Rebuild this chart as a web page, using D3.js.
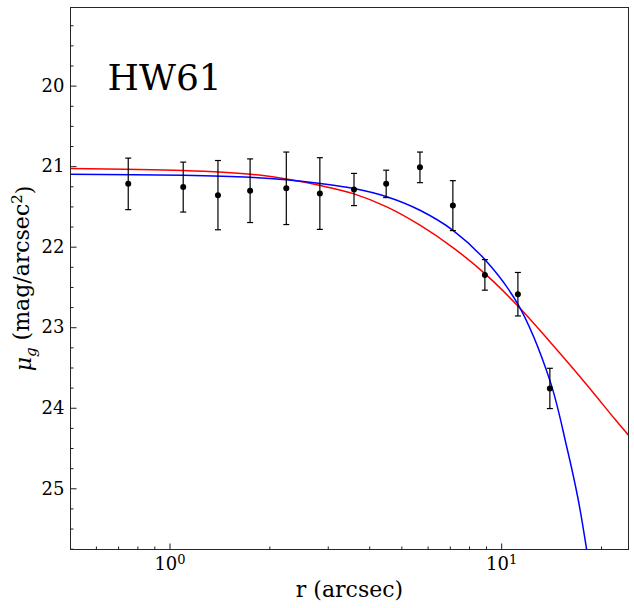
<!DOCTYPE html>
<html>
<head>
<meta charset="utf-8">
<script src="https://cdn.jsdelivr.net/npm/d3@7"></script>
<style>
  body { margin: 0; background: #fff; }
  svg { display: block; }
  text { font-family: "DejaVu Serif", serif; fill: #000; }
</style>
</head>
<body>
<svg id="chart" width="634" height="608"></svg>
<script>
// measured profile (r in arcsec, mu_g in mag/arcsec^2)
const radii = [0.751, 1.10, 1.40, 1.75, 2.25, 2.84, 3.60, 4.50, 5.69, 7.15, 8.93, 11.23, 14.02];
const mu = [21.22, 21.26, 21.36, 21.305, 21.275, 21.34, 21.29, 21.22, 21.015, 21.49, 22.35, 22.59, 23.76];
const muErr = [0.32, 0.31, 0.43, 0.395, 0.45, 0.445, 0.20, 0.17, 0.19, 0.31, 0.19, 0.27, 0.25];

// red model curve
const redR = [0.50, 1.10, 1.75, 2.25, 2.85, 3.60, 4.52, 5.69, 7.17, 8.93, 11.25, 14.02, 18.08, 22.0, 24.2];
const redMu = [21.03, 21.055, 21.10, 21.16, 21.24, 21.344, 21.506, 21.733, 22.014, 22.335, 22.74, 23.18, 23.71, 24.14, 24.34];

// blue model curve
const blueR = [0.50, 1.10, 1.75, 2.25, 2.85, 3.60, 4.52, 5.69, 7.17, 8.93, 11.25, 14.02, 15.74, 17.06, 18.08, 18.6];
const blueMu = [21.10, 21.113, 21.138, 21.17, 21.216, 21.278, 21.38, 21.548, 21.80, 22.16, 22.72, 23.66, 24.475, 25.136, 25.75, 26.1];

const xMajor = [1, 10];
const xMinor = [0.6, 0.7, 0.8, 0.9, 2, 3, 4, 5, 6, 7, 8, 9, 20];
const yMajor = [20, 21, 22, 23, 24, 25];
const yMinor = [19.25, 19.5, 19.75, 20.25, 20.5, 20.75, 21.25, 21.5, 21.75, 22.25, 22.5, 22.75,
                23.25, 23.5, 23.75, 24.25, 24.5, 24.75, 25.25, 25.5, 25.75];

const margin = { top: 7.5, right: 5.5, bottom: 58.5, left: 70.5 };
const width = 634 - margin.left - margin.right;
const height = 608 - margin.top - margin.bottom;

const svg = d3.select("#chart");
const g = svg.append("g")
    .attr("transform", `translate(${margin.left},${margin.top})`);

const x = d3.scaleLog()
    .domain([0.503, 24.2])
    .range([0, width]);

const y = d3.scaleLinear()
    .domain([19.03, 25.76])
    .range([0, height]);

g.append("clipPath")
    .attr("id", "clip")
    .append("rect")
    .attr("width", width)
    .attr("height", height);

// minor ticks
g.append("g")
    .attr("transform", `translate(0,${height})`)
    .call(d3.axisBottom(x).tickValues(xMinor).tickSize(-3).tickFormat(""))
    .call(a => a.select(".domain").remove());

g.append("g")
    .call(d3.axisLeft(y).tickValues(yMinor).tickSize(-3).tickFormat(""))
    .call(a => a.select(".domain").remove());

// major ticks
const xAxis = g.append("g")
    .attr("transform", `translate(0,${height})`)
    .call(d3.axisBottom(x).tickValues(xMajor).tickSize(-6).tickPadding(8).tickFormat(""));
xAxis.select(".domain").remove();

xAxis.selectAll(".tick text")
    .attr("dy", "0.71em")
    .style("font-size", "18px")
    .each(function (d) {
        const t = d3.select(this);
        t.append("tspan").text("10");
        t.append("tspan")
            .attr("dy", "-0.45em")
            .style("font-size", "13px")
            .text(Math.round(Math.log10(d)));
    });

const yAxis = g.append("g")
    .call(d3.axisLeft(y).tickValues(yMajor).tickSize(-6).tickPadding(6).tickFormat(d3.format("d")));
yAxis.select(".domain").remove();
yAxis.selectAll(".tick text").style("font-size", "18px");

svg.selectAll(".tick line").attr("stroke", "#000").attr("stroke-width", 0.9);

// model curves
const line = (rs, ms) => d3.line()
    .x((d, i) => x(rs[i]))
    .y((d, i) => y(ms[i]))
    .curve(d3.curveCatmullRom.alpha(0.5))(rs);

const curves = g.append("g").attr("clip-path", "url(#clip)");

curves.append("path")
    .attr("d", line(redR, redMu))
    .attr("fill", "none")
    .attr("stroke", "#ff0000")
    .attr("stroke-width", 1.5);

curves.append("path")
    .attr("d", line(blueR, blueMu))
    .attr("fill", "none")
    .attr("stroke", "#0000ff")
    .attr("stroke-width", 1.5);

// data points with error bars
const pts = g.append("g");
const cap = 3;

radii.forEach((r, i) => {
    const cx = x(r);
    const top = y(mu[i] - muErr[i]);
    const bot = y(mu[i] + muErr[i]);

    pts.append("line")
        .attr("x1", cx).attr("x2", cx)
        .attr("y1", top).attr("y2", bot)
        .attr("stroke", "#000").attr("stroke-width", 1.2);

    [top, bot].forEach(yy => {
        pts.append("line")
            .attr("x1", cx - cap).attr("x2", cx + cap)
            .attr("y1", yy).attr("y2", yy)
            .attr("stroke", "#000").attr("stroke-width", 1.2);
    });

    pts.append("circle")
        .attr("cx", cx)
        .attr("cy", y(mu[i]))
        .attr("r", 3)
        .attr("fill", "#000");
});

// frame
g.append("rect")
    .attr("width", width)
    .attr("height", height)
    .attr("fill", "none")
    .attr("stroke", "#262626")
    .attr("stroke-width", 1);

// label inside the panel
g.append("text")
    .attr("x", 37)
    .attr("y", 82)
    .style("font-size", "36px")
    .text("HW61");

// axis titles
svg.append("text")
    .attr("x", margin.left + width / 2)
    .attr("y", 597)
    .attr("text-anchor", "middle")
    .style("font-size", "22px")
    .text("r (arcsec)");

const yTitle = svg.append("text")
    .attr("transform", `translate(31,${margin.top + height / 2}) rotate(-90)`)
    .attr("text-anchor", "middle")
    .style("font-size", "22px");
yTitle.append("tspan").style("font-style", "italic").text("μ");
yTitle.append("tspan")
    .style("font-style", "italic")
    .style("font-size", "15px")
    .attr("dy", "0.3em")
    .text("g");
yTitle.append("tspan").attr("dy", "-0.3em").text(" (mag/arcsec");
yTitle.append("tspan")
    .style("font-size", "15px")
    .attr("dy", "-0.45em")
    .text("2");
yTitle.append("tspan").attr("dy", "0.45em").text(")");
</script>
</body>
</html>
